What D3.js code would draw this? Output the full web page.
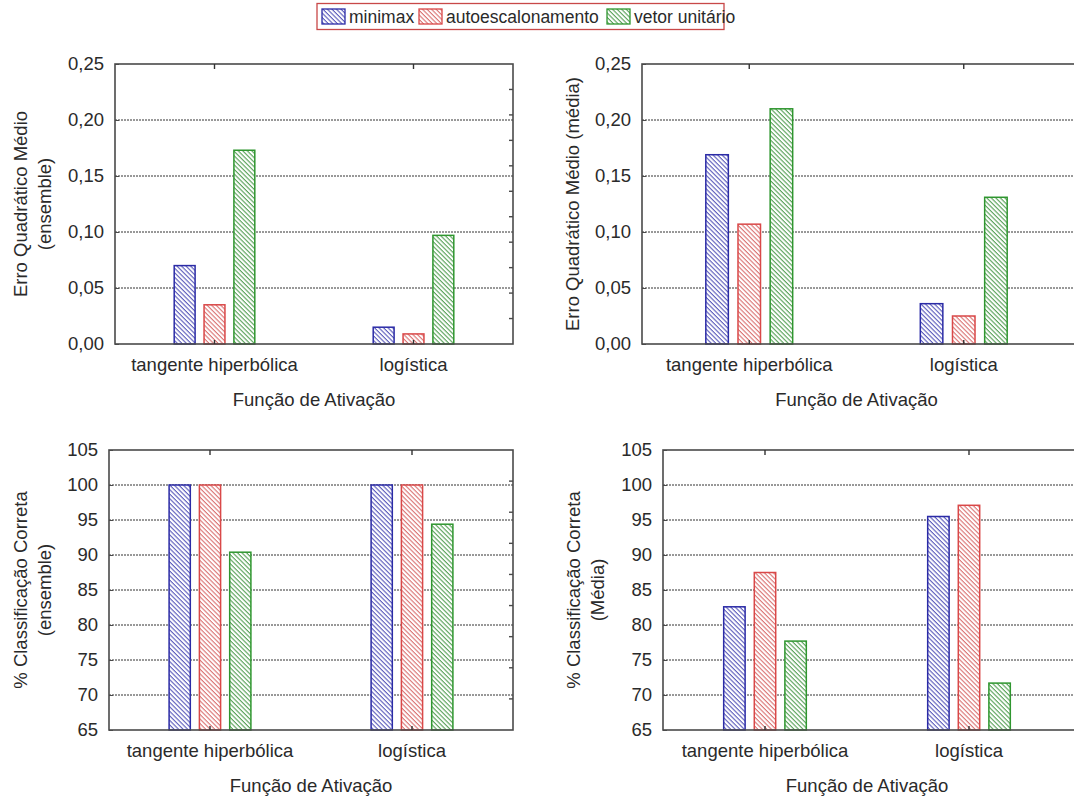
<!DOCTYPE html>
<html><head><meta charset="utf-8">
<script src="https://cdn.jsdelivr.net/npm/d3@7"></script>
<style>
body{margin:0;background:#fff}
text{font-family:"Liberation Sans",Arial,sans-serif;fill:#2a2a2a}
</style>
</head><body>
<svg id="c" width="1074" height="798"></svg>
<script>
// ---------- data ----------
const categories = ["tangente hiperbólica", "logística"];
const series = ["minimax", "autoescalonamento", "vetor unitário"];
// values per category, in series order
const mseEnsembleValues = [[0.070, 0.035, 0.173], [0.015, 0.009, 0.097]];
const mseMediaValues    = [[0.169, 0.107, 0.210], [0.036, 0.025, 0.131]];
const accEnsembleValues = [[100, 100, 90.4], [100, 100, 94.4]];
const accMediaValues    = [[82.6, 87.5, 77.7], [95.5, 97.1, 71.7]];
const mseTicks = [0, 0.05, 0.10, 0.15, 0.20, 0.25];
const accTicks = [65, 70, 75, 80, 85, 90, 95, 100, 105];
const xTitle = "Função de Ativação";

// ---------- style ----------
const colors = {
  "minimax":           {stroke: "#2b2ba6", hatch: "#4848b4"},
  "autoescalonamento": {stroke: "#d94848", hatch: "#d66262"},
  "vetor unitário":    {stroke: "#2f962f", hatch: "#449644"}
};

const svg = d3.select("#c");
const defs = svg.append("defs");
series.forEach((s, i) => {
  const p = defs.append("pattern").attr("id", "h" + i)
    .attr("patternUnits", "userSpaceOnUse").attr("width", 3.2).attr("height", 10)
    .attr("patternTransform", "rotate(-45)");
  p.append("rect").attr("width", 3.2).attr("height", 10).attr("fill", "#fff");
  p.append("line").attr("x1", 1).attr("x2", 1).attr("y1", 0).attr("y2", 10)
    .attr("stroke", colors[s].hatch).attr("stroke-width", 1);
});

const fmtMse = v => d3.format(".2f")(v).replace(".", ",");
const fmtAcc = v => String(v);

function panel(cfg) {
  const g = svg.append("g");
  const x0 = d3.scaleBand().domain(categories).range([cfg.left, cfg.right]);
  const y = d3.scaleLinear().domain(cfg.domain).range([cfg.bottom, cfg.top]);
  const B = x0.bandwidth();
  const w = 0.105 * B, s = 0.15 * B;
  const x1 = d3.scaleBand().domain(series)
    .range([-(s + w / 2), s + w / 2]).paddingInner((s - w) / s).paddingOuter(0);

  // gridlines
  g.append("g").selectAll("line").data(cfg.ticks.slice(1, -1)).join("line")
    .attr("x1", cfg.left).attr("x2", cfg.frameRight)
    .attr("y1", d => y(d)).attr("y2", d => y(d))
    .attr("stroke", "#333").attr("stroke-width", 1).attr("stroke-dasharray", "2,1");

  // bars
  cfg.values.forEach((vals, ci) => {
    const cx = x0(categories[ci]) + B / 2;
    g.append("g").selectAll("rect").data(vals).join("rect")
      .attr("x", (d, i) => cx + x1(series[i]))
      .attr("width", x1.bandwidth())
      .attr("y", d => y(d))
      .attr("height", d => y(cfg.domain[0]) - y(d))
      .attr("fill", (d, i) => "url(#h" + i + ")")
      .attr("stroke", (d, i) => colors[series[i]].stroke)
      .attr("stroke-width", 1.5);
  });

  // frame
  g.append("rect").attr("x", cfg.left).attr("y", cfg.top)
    .attr("width", cfg.frameRight - cfg.left).attr("height", cfg.bottom - cfg.top)
    .attr("fill", "none").attr("stroke", "#4a4a4a").attr("stroke-width", 1.6);

  // y axis labels
  const ya = g.append("g").attr("transform", `translate(${cfg.left},0)`)
    .call(d3.axisLeft(y).tickValues(cfg.ticks).tickFormat(cfg.fmt).tickSize(-4).tickPadding(11));
  ya.select(".domain").remove();
  ya.selectAll("line").attr("stroke", "#4a4a4a");
  ya.selectAll("text").attr("font-size", 18.5).attr("fill", "#2a2a2a")
    .style("font-family", '"Liberation Sans",Arial,sans-serif');

  // right minor ticks
  if (cfg.rightTicks) {
    const yr = d3.scaleLinear().domain([0, cfg.rightTicks]).range([cfg.bottom, cfg.top]);
    g.append("g").selectAll("line").data(d3.range(1, cfg.rightTicks)).join("line")
      .attr("x1", cfg.frameRight).attr("x2", cfg.frameRight - 4)
      .attr("y1", d => yr(d)).attr("y2", d => yr(d))
      .attr("stroke", "#4a4a4a").attr("stroke-width", 1.4);
  }

  // category ticks top & bottom
  const xb = g.append("g").attr("transform", `translate(0,${cfg.bottom})`)
    .call(d3.axisBottom(x0).tickSize(-4).tickPadding(14));
  xb.select(".domain").remove();
  xb.selectAll("line").attr("stroke", "#333").attr("stroke-width", 1.4);
  xb.selectAll("text").attr("font-size", 18.5).attr("fill", "#2a2a2a")
    .style("font-family", '"Liberation Sans",Arial,sans-serif');
  const xt = g.append("g").attr("transform", `translate(0,${cfg.top})`)
    .call(d3.axisTop(x0).tickSize(-5).tickFormat(""));
  xt.select(".domain").remove();
  xt.selectAll("line").attr("stroke", "#333").attr("stroke-width", 1.4);

  // x title
  g.append("text").attr("x", (cfg.left + cfg.right) / 2).attr("y", cfg.bottom + 62)
    .attr("text-anchor", "middle").attr("font-size", 18.5).text(xTitle);

  // y title
  const cy = (cfg.top + cfg.bottom) / 2;
  cfg.yTitle.forEach((t, i) => {
    g.append("text")
      .attr("transform", `translate(${cfg.yTitleX + i * 24},${cy}) rotate(-90)`)
      .attr("text-anchor", "middle").attr("font-size", 18.5).text(t);
  });
}

panel({left: 115, right: 513, frameRight: 513, top: 64, bottom: 344,
  domain: [0, 0.25], ticks: mseTicks, fmt: fmtMse, values: mseEnsembleValues,
  rightTicks: 11, yTitle: ["Erro Quadrático Médio", "(ensemble)"], yTitleX: 27});
panel({left: 642, right: 1071, frameRight: 1080, top: 64, bottom: 344,
  domain: [0, 0.25], ticks: mseTicks, fmt: fmtMse, values: mseMediaValues,
  rightTicks: 0, yTitle: ["Erro Quadrático Médio (média)"], yTitleX: 579});
panel({left: 109, right: 513, frameRight: 513, top: 450, bottom: 730,
  domain: [65, 105], ticks: accTicks, fmt: fmtAcc, values: accEnsembleValues,
  rightTicks: 9, yTitle: ["% Classificação Correta", "(ensemble)"], yTitleX: 27});
panel({left: 663, right: 1071, frameRight: 1080, top: 450, bottom: 730,
  domain: [65, 105], ticks: accTicks, fmt: fmtAcc, values: accMediaValues,
  rightTicks: 0, yTitle: ["% Classificação Correta", "(Média)"], yTitleX: 580});

// ---------- legend ----------
const lg = svg.append("g");
const legendX = [322, 419, 607];
series.forEach((s, i) => {
  lg.append("rect").attr("x", legendX[i]).attr("y", 9).attr("width", 23).attr("height", 15)
    .attr("fill", "url(#h" + i + ")").attr("stroke", colors[s].stroke).attr("stroke-width", 1.3);
  lg.append("text").attr("x", legendX[i] + 27).attr("y", 23).attr("font-size", 17.5).text(s);
});
lg.insert("rect", ":first-child").attr("x", 317).attr("y", 3.5).attr("width", 407).attr("height", 26)
  .attr("fill", "#fff").attr("stroke", "#c84848").attr("stroke-width", 1.3);
</script>
</body></html>
